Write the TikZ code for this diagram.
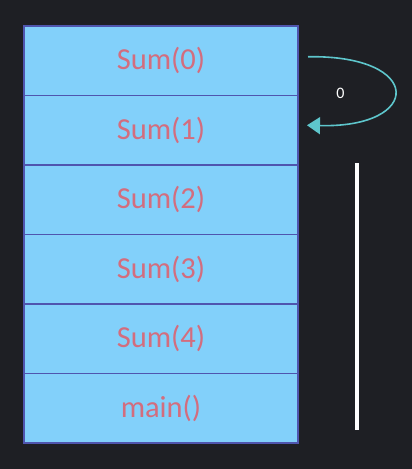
\documentclass[tikz,border=0pt]{standalone}
\usepackage{fontspec}
\setmainfont{Carlito}
\usetikzlibrary{arrows.meta,positioning}
\definecolor{cbg}{HTML}{1E1F24}
\definecolor{cframe}{HTML}{82D0FA}
\definecolor{cedge}{HTML}{4F55AE}
\definecolor{ctext}{HTML}{D36D7E}
\definecolor{carrow}{HTML}{5EC6CC}
\tikzset{
  frame/.style={draw=cedge,line width=1.8pt,fill=cframe,minimum width=274pt,
    minimum height=69.5pt,outer sep=0pt,inner sep=0pt,text=ctext,
    font=\fontsize{30.5}{33}\selectfont},
  >=Stealth
}
\begin{document}
\begin{tikzpicture}[x=1pt,y=-1pt,node distance=0pt]
    \fill[cbg] (0,0) rectangle (412,469);
    \useasboundingbox (0,0) rectangle (412,469);
    \node[frame] (s0) at (161,60.75) {Sum(0)};
    \node[frame,below=of s0] (s1) {Sum(1)};
    \node[frame,below=of s1] (s2) {Sum(2)};
    \node[frame,below=of s2] (s3) {Sum(3)};
    \node[frame,below=of s3] (s4) {Sum(4)};
    \node[frame,below=of s4] (m) {main()};
    % recursive return arrow
    \coordinate (out) at ([xshift=10pt,yshift=4pt]s0.east);
    \coordinate (back) at ([xshift=9pt,yshift=5pt]s1.east);
    \draw[carrow,line width=1.6pt,-{Triangle[length=13pt,width=17pt]}]
      (out) .. controls +(116,-2) and +(116,3) .. (back)
      node[pos=0.5,left=46pt,yshift=-2pt,text=white,font=\fontsize{16}{18}\selectfont] (lbl) {0};
    % stack direction bar
    \coordinate (bartop) at (357,163);
    \coordinate (barbot) at (357,430);
    \draw[white,line width=4pt] (bartop) -- (barbot);
\end{tikzpicture}
\end{document}
